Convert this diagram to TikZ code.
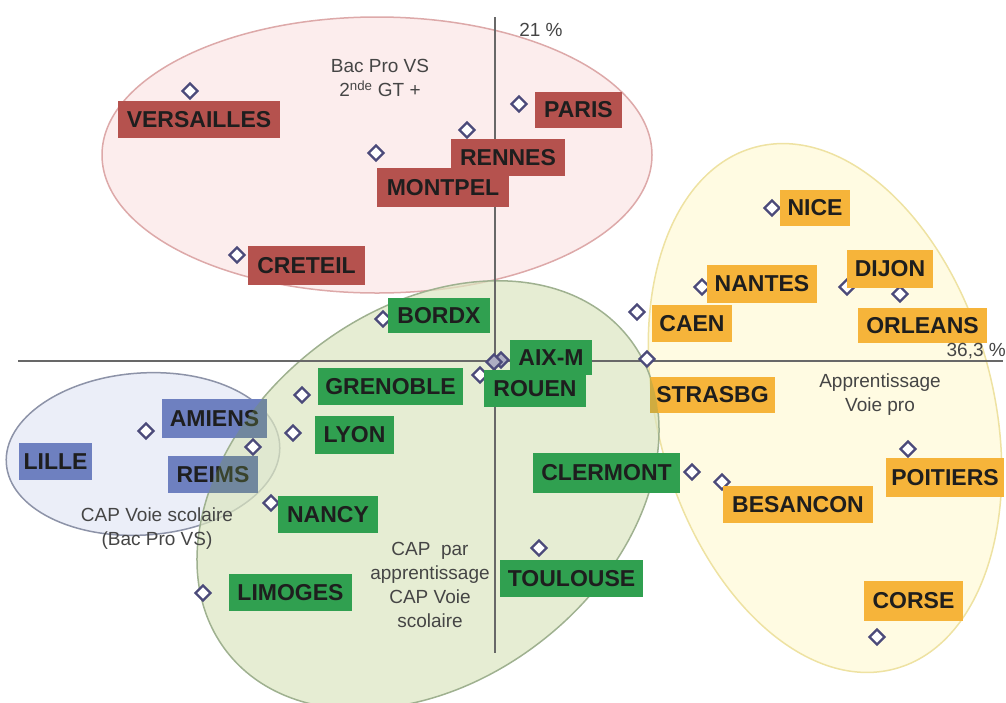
\documentclass[tikz,border=0pt]{standalone}
\usepackage{fontspec}
\setmainfont{Liberation Sans}
\usetikzlibrary{shapes.geometric}
\definecolor{labred}{HTML}{B5524E}
\definecolor{labgreen}{HTML}{30A050}
\definecolor{labyellow}{HTML}{F6B43A}
\definecolor{labblue}{HTML}{6E80C0}
\definecolor{labtext}{HTML}{1E1E1E}
\definecolor{mkcol}{HTML}{4B4A7A}
\definecolor{redfill}{HTML}{FCEDED}
\definecolor{redline}{HTML}{DDA9A9}
\definecolor{greenfill}{HTML}{DCE6C0}
\definecolor{greenline}{HTML}{9FB190}
\definecolor{yellowfill}{HTML}{FFFBE2}
\definecolor{yellowline}{HTML}{EEE2A2}
\definecolor{bluefill}{HTML}{EBEEF8}
\definecolor{blueline}{HTML}{8D93A8}
\definecolor{axiscol}{HTML}{686868}
\definecolor{anncol}{HTML}{454545}
\definecolor{tintcol}{HTML}{7A9A50}
\newcommand\labfont{\fontsize{23}{26}\selectfont\bfseries}
\newcommand\annfont{\fontsize{19}{24}\selectfont}
\newcommand\citybox[7]{%
  \pgfmathsetmacro\cbw{#5-#3}\pgfmathsetmacro\cbh{#6-#4}%
  \pgfmathsetmacro\cbx{(#3+#5)/2}\pgfmathsetmacro\cby{(#4+#6)/2}%
  \node[#2, minimum width=\cbw pt, minimum height=\cbh pt] (#1) at (\cbx,\cby) {#7};}
\tikzset{
  lab/.style={inner sep=0pt, font=\labfont, text=labtext},
  rlab/.style={lab, fill=labred},
  glab/.style={lab, fill=labgreen},
  ylab/.style={lab, fill=labyellow},
  blab/.style={lab, fill=labblue},
  mk/.style={diamond, draw=mkcol, fill=white, line width=2.3pt, minimum size=16pt, inner sep=0pt},
  mkf/.style={mk, fill=mkcol!45},
  ann/.style={font=\annfont, text=anncol, align=center, inner sep=0pt},
  axisline/.style={draw=axiscol, line width=2.5pt},
}
\begin{document}
\begin{tikzpicture}[x=1pt,y=-1pt]
\useasboundingbox (0,0) rectangle (1006,702);
% groups (ellipses)
\path[fill=redfill, draw=redline, line width=1.5pt] (377,155) ellipse [x radius=275pt, y radius=138pt];
\path[fill=yellowfill, draw=yellowline, line width=1.5pt, rotate around={15:(825,408)}] (825,408) ellipse [x radius=168pt, y radius=270pt];
\path[fill=bluefill, draw=blueline, line width=1.5pt, rotate around={4:(143,454)}] (143,454) ellipse [x radius=137pt, y radius=81pt];
\path[fill=greenfill, fill opacity=0.7, draw=greenline, line width=1.5pt, rotate around={38:(428,495)}] (428,495) ellipse [x radius=255pt, y radius=185pt];
% axes
\coordinate (hxL) at (18,361);
\coordinate (hxR) at (1003,361);
\coordinate (vxT) at (495,17);
\coordinate (vxB) at (495,653);
\draw[axisline] (hxL) -- (hxR);
\draw[axisline] (vxT) -- (vxB);
% markers
\node[mk] (dVER) at (190,91) {};
\node[mk] (dPAR) at (519,104) {};
\node[mk] (dREN) at (467,130) {};
\node[mk] (dMON) at (376,153) {};
\node[mk] (dCRE) at (237,255) {};
\node[mk] (dBOR) at (383,319) {};
\node[mk] (dGRE) at (302,395) {};
\node[mk] (dLYO) at (293,433) {};
\node[mk] (dNAN) at (271,503) {};
\node[mk] (dLIM) at (203,593) {};
\node[mkf] (dAIX) at (501,360) {};
\node[mkf] (dAIXb) at (494,362) {};
\node[mk] (dROU) at (480,375) {};
\node[mk] (dCLE) at (692,472) {};
\node[mk] (dTOU) at (539,548) {};
\node[mk] (dNIC) at (772,208) {};
\node[mk] (dNTS) at (702,287) {};
\node[mk] (dDIJ) at (847,287) {};
\node[mk] (dORL) at (900,294) {};
\node[mk] (dCAE) at (637,312) {};
\node[mk] (dSTR) at (647,359) {};
\node[mk] (dBES) at (722,482) {};
\node[mk] (dPOI) at (908,449) {};
\node[mk] (dCOR) at (877,637) {};
\node[mk] (dAMI) at (146,431) {};
\node[mk] (dREI) at (253,447) {};
% labels
\citybox{VER}{rlab}{118}{101}{280}{138}{VERSAILLES}
\citybox{PAR}{rlab}{535}{92}{622}{128}{PARIS}
\citybox{REN}{rlab}{451}{139}{565}{176}{RENNES}
\citybox{MON}{rlab}{377}{168}{509}{207}{MONTPEL}
\citybox{CRE}{rlab}{248}{246}{365}{285}{CRETEIL}
\citybox{BOR}{glab}{388}{298}{490}{333}{BORDX}
\citybox{GRE}{glab}{318}{368}{463}{405}{GRENOBLE}
\citybox{LYO}{glab}{315}{416}{394}{454}{LYON}
\citybox{NAN}{glab}{278}{496}{378}{533}{NANCY}
\citybox{LIM}{glab}{229}{574}{352}{611}{LIMOGES}
\citybox{AIX}{glab}{510}{340}{592}{375}{AIX-M}
\citybox{ROU}{glab}{484}{370}{586}{407}{ROUEN}
\citybox{CLE}{glab}{533}{453}{680}{493}{CLERMONT}
\citybox{TOU}{glab}{500}{560}{643}{597}{TOULOUSE}
\citybox{NIC}{ylab}{780}{190}{850}{226}{NICE}
\citybox{NTS}{ylab}{707}{265}{817}{303}{NANTES}
\citybox{DIJ}{ylab}{847}{250}{933}{288}{DIJON}
\citybox{ORL}{ylab}{858}{308}{987}{343}{ORLEANS}
\citybox{CAE}{ylab}{652}{305}{732}{342}{CAEN}
\citybox{STR}{ylab}{650}{377}{775}{413}{STRASBG}
\citybox{BES}{ylab}{723}{486}{873}{523}{BESANCON}
\citybox{POI}{ylab}{886}{458}{1004}{497}{POITIERS}
\citybox{COR}{ylab}{864}{581}{963}{621}{CORSE}
\citybox{AMI}{blab}{162}{399}{267}{438}{AMIENS}
\citybox{REI}{blab}{168}{456}{258}{493}{REIMS}
\citybox{LIL}{blab}{19}{443}{92}{480}{LILLE}
% green group tint over boxes it overlaps
\begin{scope}
\clip[rotate around={38:(428,495)}] (428,495) ellipse [x radius=255pt, y radius=185pt];
\fill[tintcol, opacity=0.3] (AMI.south west) rectangle (AMI.north east);
\fill[tintcol, opacity=0.3] (REI.south west) rectangle (REI.north east);
\fill[tintcol, opacity=0.3] (STR.south west) rectangle (STR.north east);
\end{scope}
% annotations
\node[ann] (tBac) at (380,78) {Bac Pro VS\\2\textsuperscript{nde} GT +};
\node[ann] (t21) at (541,30) {21 \%};
\node[ann, anchor=east] (t363) at (1006,351) {36,3 \%};
\node[ann] (tApp) at (880,395) {Apprentissage\\Voie pro};
\node[ann] (tCVS) at (157,529) {CAP Voie scolaire\\(Bac Pro VS)};
\node[ann] (tCAP) at (430,585) {CAP\ \ par\\apprentissage\\CAP Voie\\scolaire};
\end{tikzpicture}
\end{document}
